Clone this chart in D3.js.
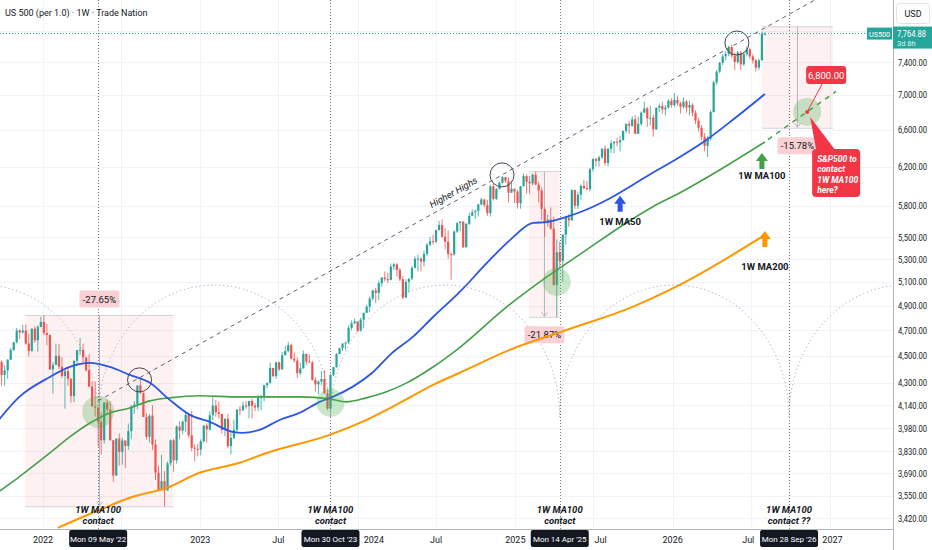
<!DOCTYPE html>
<html>
<head>
<meta charset="utf-8">
<script src="https://cdn.jsdelivr.net/npm/d3@7"></script>
<style>
  body { margin: 0; background: #fff; }
  svg { display: block; font-family: Roboto, "Liberation Sans", sans-serif; }
  .grid line { stroke: #f0f3fa; stroke-width: 1; }
  .tick-y, .tick-x { font-size: 9px; fill: #131722; }
  .note { font-size: 9.5px; font-weight: bold; fill: #131722; }
  .contact { font-size: 9.5px; font-weight: bold; font-style: italic; fill: #131722; }
</style>
</head>
<body>
<svg id="chart" width="932" height="550"></svg>
<script>
// ---- weekly candles (Mon 20 Sep '21 .. Mon 03 Aug '26), open = previous close
var firstWeek = "2021-09-20";
var firstOpen = 4430;
var closes = [
  4455,4357,4391,4471,4545,4605,4697,4682,4698,4595,4538,4712,4620,4725,4766,
  4677,4662,4398,4432,4500,4418,4349,4385,4329,4204,4463,4543,4546,4488,4392,4272,4132,4123,4024,3901,
  4158,4109,3901,3675,3912,3825,3899,3863,3962,4130,4145,4280,4228,4058,3924,4067,3873,3693,3586,3640,
  3583,3752,3901,3771,3993,3965,4026,4072,3934,3852,3845,3840,
  3895,3999,3973,4070,4136,4090,4079,3970,4045,3862,3917,3971,4109,4105,4137,4133,4169,4136,4124,4192,
  4205,4282,4299,4409,4348,4450,4399,4505,4536,4582,4478,4464,4370,4406,4515,4457,4450,4320,4288,4308,
  4327,4224,4117,4358,4415,4514,4559,4595,4604,4719,4755,4770,
  4697,4784,4840,4891,4959,5027,5006,5089,5137,5124,5117,5234,5254,5204,5123,4967,5100,5128,5223,5303,
  5305,5278,5347,5431,5465,5460,5567,5615,5505,5459,5346,5344,5554,5634,5648,5408,5626,5703,5738,5751,
  5815,5864,5808,5729,5995,5870,5969,6032,6090,6051,5931,5971,5942,
  5827,5997,6101,6041,6026,6115,6013,5955,5770,5639,5668,5581,5074,5363,5283,5525,5686,5660,5958,5802,
  5912,6000,5977,5967,6173,6279,6260,6297,6389,6238,6389,6449,6467,6460,6482,6584,6664,6643,6716,6553,
  6664,6792,6840,6728,6734,6603,6849,6870,6830,6850,6930,6880,
  6940,6900,6860,6920,6850,6880,6790,6700,6620,6520,6420,6500,6800,7150,7280,7390,7470,7500,7590,7480,
  7400,7520,7370,7500,7560,7470,7420,7330,7420,7760,7764.88
];
var highs = [
  4465,4466,4429,4475,4560,4608,4718,4708,4743,4743,4672,4713,4731,4740,4808,
  4819,4749,4665,4453,4595,4590,4490,4395,4416,4327,4465,4546,4637,4593,4471,4513,4308,4307,4082,4090,
  4158,4178,4168,3838,3914,3946,3918,3879,4013,4140,4167,4281,4325,4203,4084,4076,4140,3907,3737,3807,
  3703,3763,3906,3911,4001,4028,4034,4100,4076,4101,3877,3878,
  3907,4003,4015,4095,4195,4176,4166,4075,4049,4079,3964,4039,4110,4133,4164,4170,4170,4186,4155,4213,
  4213,4282,4300,4448,4409,4458,4456,4528,4578,4607,4594,4527,4490,4448,4541,4515,4511,4463,4339,4317,
  4385,4393,4256,4366,4418,4521,4560,4596,4609,4738,4778,4793,
  4754,4799,4842,4907,4975,5030,5048,5111,5141,5190,5180,5262,5265,5264,5222,5151,5123,5129,5239,5325,
  5342,5315,5376,5447,5506,5524,5570,5655,5670,5585,5566,5364,5563,5643,5651,5651,5636,5733,5767,5765,
  5822,5879,5866,5862,6012,6018,5978,6044,6099,6092,6085,6049,5966,
  5961,6000,6128,6120,6101,6128,6147,6043,5986,5785,5715,5786,5695,5481,5459,5528,5700,5720,5964,5960,
  5944,6016,6059,6050,6187,6284,6290,6316,6395,6427,6395,6481,6467,6509,6532,6592,6671,6699,6750,6764,
  6744,6808,6920,6860,6870,6770,6853,6900,6920,6880,6950,6960,
  7020,6990,6920,6970,6940,6930,6900,6820,6730,6650,6560,6530,6820,7170,7300,7400,7500,7540,7610,7620,
  7520,7540,7540,7520,7600,7580,7500,7440,7440,7790,7780
];
var lows = [
  4306,4278,4278,4329,4470,4537,4595,4630,4672,4585,4495,4532,4600,4531,4733,
  4662,4582,4395,4222,4431,4401,4335,4115,4279,4157,4161,4424,4507,4450,4381,4267,4128,4062,3859,3810,
  3876,4074,3900,3637,3705,3738,3742,3721,3838,3911,4079,4112,4218,4057,3906,3886,3837,3647,3584,3584,
  3488,3633,3738,3698,3751,3906,3940,3956,3918,3828,3764,3796,
  3802,3885,3885,3964,4036,4060,4047,3944,3928,3847,3809,3908,3951,4069,4096,4114,4049,4048,4099,4098,
  4103,4166,4261,4293,4341,4328,4385,4394,4504,4526,4474,4449,4335,4356,4403,4431,4449,4316,4238,4216,
  4283,4223,4104,4103,4347,4411,4511,4537,4546,4593,4700,4751,
  4682,4688,4714,4845,4845,4942,4920,4946,5058,5105,5092,5114,5203,5146,5107,4953,4963,5011,5114,5218,
  5191,5191,5234,5331,5420,5433,5444,5565,5497,5391,5302,5119,5330,5540,5560,5402,5406,5615,5703,5674,
  5696,5804,5787,5703,5697,5853,5858,5964,6024,6031,5832,5933,5829,
  5774,5773,5995,5923,5923,6003,6009,5837,5666,5505,5598,5572,5069,4805,5220,5101,5433,5598,5786,5768,
  5767,5861,5964,5952,5943,6146,6201,6201,6282,6212,6201,6343,6343,6416,6360,6481,6563,6551,6630,6550,
  6570,6641,6800,6631,6646,6521,6600,6800,6780,6760,6840,6850,
  6860,6870,6780,6840,6790,6760,6750,6660,6580,6480,6360,6300,6480,6790,7120,7260,7360,7420,7470,7450,
  7300,7380,7300,7350,7470,7440,7380,7280,7300,7420,7740
];
var lastPrice = 7764.88;

// ---- moving averages
var ma50Dates = ["2021-09-20","2021-11-07","2022-01-17","2022-03-04","2022-04-20","2022-06-05","2022-07-21",
  "2022-09-06","2022-10-22","2022-12-08","2023-01-23","2023-03-17","2023-04-09","2023-05-18","2023-07-04",
  "2023-08-19","2023-10-05","2023-11-04","2023-12-20","2024-02-04","2024-03-21","2024-05-08","2024-06-24",
  "2024-08-25","2024-10-27","2024-12-20","2025-02-11","2025-03-15","2025-04-30","2025-06-29","2025-08-14",
  "2025-09-30","2025-11-15","2026-01-10","2026-03-20","2026-05-20","2026-08-03"];
var ma50Vals = [4037,4198,4342,4417,4447,4417,4358,4299,4177,4072,4024,3957,3950,3970,4037,4086,4163,4198,
  4270,4373,4523,4647,4806,5014,5267,5476,5635,5644,5693,5790,5889,6010,6133,6280,6485,6708,7010];

var ma100Dates = ["2021-09-20","2021-11-07","2022-01-17","2022-03-04","2022-04-20","2022-06-05","2022-07-21",
  "2022-09-06","2022-10-22","2022-12-30","2023-04-02","2023-08-19","2023-10-28","2023-12-06","2024-01-21",
  "2024-03-08","2024-04-24","2024-06-24","2024-08-18","2024-12-12","2025-03-15","2025-06-15","2025-09-15",
  "2025-11-15","2026-01-17","2026-04-20","2026-08-03"];
var ma100Vals = [3575,3667,3818,3923,4017,4086,4120,4170,4191,4206,4198,4198,4184,4163,4191,4234,4299,4416,
  4546,4889,5143,5384,5635,5790,5929,6164,6463];

var ma200Dates = ["2022-02-04","2022-05-13","2022-07-28","2022-10-15","2022-12-30","2023-04-02","2023-06-04",
  "2023-10-28","2024-01-06","2024-04-08","2024-06-24","2024-08-25","2024-12-19","2025-04-30","2025-09-30",
  "2026-01-17","2026-08-03"];
var ma200Vals = [3363,3468,3545,3599,3692,3755,3818,3937,4017,4156,4285,4373,4546,4702,4889,5074,5522];

var projDates = ["2026-08-10","2027-01-15"];
var projVals = [6490,7040];

// ---- drawings
var markerDates = ["2022-05-09","2023-10-30","2025-04-14","2026-09-28"];
var markerLabels = ["Mon 09 May '22","Mon 30 Oct '23","Mon 14 Apr '25","Mon 28 Sep '26"];
var contactLabels = ["contact","contact","contact","contact ??"];

var rangeStart = ["2021-11-21","2025-02-02","2026-07-27"];
var rangeEnd = ["2022-10-31","2025-04-14","2027-01-08"];
var rangeTop = [4818,6147,7855];
var rangeBottom = [3486,4803,6615];
var rangeLabels = ["-27.65%","-21.87%","-15.78%"];

var contactDates = ["2022-05-09","2023-10-30","2025-04-07","2026-11-09"];
var contactPrices = [4093,4156,5100,6800];
var highDates = ["2022-08-13","2024-12-01","2026-05-30"];
var highPrices = [4321,6113,7642];
var hhDates = ["2022-05-09","2025-12-01"];
var hhPrices = [4170,7094];

var yTicks = [7800,7400,7000,6600,6200,5800,5500,5300,5100,4900,4700,4500,4300,4140,3980,3830,3690,3550,3420];
var xTickDates = ["2022-01-01","2022-07-01","2023-01-01","2023-07-01","2024-01-01","2024-07-01","2025-01-01",
  "2025-07-01","2026-01-01","2026-07-01","2027-01-01"];
var xTickLabels = ["2022","Jul","2023","Jul","2024","Jul","2025","Jul","2026","Jul","2027"];

// ---- setup
var parse = d3.timeParse("%Y-%m-%d");
var W = 932, H = 550, plotR = 893, plotB = 529;
var svg = d3.select("#chart");
var x = d3.scaleTime().domain([parse("2022-01-01"), parse("2027-01-01")]).range([43, 830]);
var y = d3.scaleLog().domain([3420, 7400]).range([518, 62]);
var UP = "#26a69a", DOWN = "#ef5350";
var fmt = d3.format(",.2f");

var defs = svg.append("defs");
defs.append("clipPath").attr("id", "plotclip")
  .append("rect").attr("x", 0).attr("y", 0).attr("width", plotR).attr("height", plotB);

var plot = svg.append("g").attr("clip-path", "url(#plotclip)");

// grid
var grid = plot.append("g").attr("class", "grid");
grid.selectAll(".gy").data(yTicks).enter().append("line")
  .attr("x1", 0).attr("x2", plotR)
  .attr("y1", function(d){ return Math.round(y(d)) + 0.5; })
  .attr("y2", function(d){ return Math.round(y(d)) + 0.5; });
grid.selectAll(".gx").data(xTickDates).enter().append("line")
  .attr("y1", 0).attr("y2", plotB)
  .attr("x1", function(d){ return Math.round(x(parse(d))) + 0.5; })
  .attr("x2", function(d){ return Math.round(x(parse(d))) + 0.5; });

// price range boxes
var ranges = rangeStart.map(function(d, i){
  return {x1: x(parse(d)), x2: x(parse(rangeEnd[i])), yt: y(rangeTop[i]), yb: y(rangeBottom[i]), label: rangeLabels[i], i: i};
});
var rg = plot.append("g");
ranges.forEach(function(r){
  rg.append("rect").attr("x", r.x1).attr("y", r.yt).attr("width", r.x2 - r.x1).attr("height", r.yb - r.yt)
    .attr("fill", "rgba(242,54,69,0.07)");
  [r.yt, r.yb].forEach(function(yy){
    rg.append("line").attr("x1", r.x1).attr("x2", r.x2).attr("y1", yy).attr("y2", yy)
      .attr("stroke", "#d1d4dc").attr("stroke-width", 1);
  });
  var xm = (r.x1 + r.x2) / 2;
  rg.append("line").attr("x1", xm).attr("x2", xm).attr("y1", r.yt).attr("y2", r.yb - 1)
    .attr("stroke", "#b2b5be").attr("stroke-width", 1);
  rg.append("path").attr("d", "M" + (xm - 3) + "," + (r.yb - 5) + "L" + xm + "," + (r.yb - 1) + "L" + (xm + 3) + "," + (r.yb - 5))
    .attr("fill", "none").attr("stroke", "#b2b5be");
});

// time cycle arcs
var mx = markerDates.map(function(d){ return x(parse(d)); });
var span = (mx[mx.length - 1] - mx[0]) / (mx.length - 1);
var arcEdges = [mx[0] - span].concat(mx).concat([mx[mx.length - 1] + span]);
var arcBase = 417, arcRy = 132;
for (var k = 0; k < arcEdges.length - 1; k++) {
  var a = arcEdges[k], b = arcEdges[k + 1];
  plot.append("path")
    .attr("d", "M" + a + "," + arcBase + " A" + ((b - a) / 2) + "," + arcRy + " 0 0 1 " + b + "," + arcBase)
    .attr("fill", "none").attr("stroke", "#9598a1").attr("stroke-width", 1).attr("stroke-dasharray", "1,3");
}

// vertical marker lines
plot.selectAll(".vm").data(mx).enter().append("line")
  .attr("x1", function(d){ return Math.round(d) + 0.5; }).attr("x2", function(d){ return Math.round(d) + 0.5; })
  .attr("y1", 0).attr("y2", plotB)
  .attr("stroke", "#787b86").attr("stroke-width", 1).attr("stroke-dasharray", "1,2");

// higher highs trend line
var hx0 = x(parse(hhDates[0])), hy0 = y(hhPrices[0]);
var hx1 = x(parse(hhDates[1])), hy1 = y(hhPrices[1]);
var slope = (hy1 - hy0) / (hx1 - hx0);
plot.append("line").attr("x1", hx0).attr("y1", hy0).attr("x2", plotR).attr("y2", hy0 + slope * (plotR - hx0))
  .attr("stroke", "#5d606b").attr("stroke-width", 1).attr("stroke-dasharray", "4,4");
var tx = 455, ty = hy0 + slope * (tx - hx0) - 6;
plot.append("text").attr("x", tx).attr("y", ty).attr("text-anchor", "middle")
  .attr("transform", "rotate(" + (Math.atan(slope) * 180 / Math.PI) + "," + tx + "," + ty + ")")
  .style("font-size", "9.5px").style("font-style", "italic").style("fill", "#131722").text("Higher Highs");

// range labels (under the MA lines)
ranges.forEach(function(r){
  var xm = (r.x1 + r.x2) / 2;
  var by = r.i === 0 ? r.yt - 25 : r.yb + 9;
  plot.append("rect").attr("x", xm - 20).attr("y", by).attr("width", 40).attr("height", 17).attr("rx", 2)
    .attr("fill", "#f9d0d3");
  plot.append("text").attr("x", xm).attr("y", by + 12).attr("text-anchor", "middle")
    .style("font-size", "9.5px").style("fill", "#131722").text(r.label);
});

// candles
var start = parse(firstWeek);
var bars = closes.map(function(c, i){
  var o = i === 0 ? firstOpen : closes[i - 1];
  return {date: d3.timeDay.offset(start, 7 * i), o: o, c: c,
          h: Math.max(highs[i], o, c), l: Math.min(lows[i], o, c)};
});
var cg = plot.append("g");
cg.selectAll(".wick").data(bars).enter().append("line")
  .attr("x1", function(d){ return x(d.date); }).attr("x2", function(d){ return x(d.date); })
  .attr("y1", function(d){ return y(d.h); }).attr("y2", function(d){ return y(d.l); })
  .attr("stroke", function(d){ return d.c >= d.o ? UP : DOWN; }).attr("stroke-width", 0.8);
cg.selectAll(".body").data(bars).enter().append("rect")
  .attr("x", function(d){ return x(d.date) - 1.1; }).attr("width", 2.2)
  .attr("y", function(d){ return y(Math.max(d.o, d.c)); })
  .attr("height", function(d){ return Math.max(1, Math.abs(y(d.o) - y(d.c))); })
  .attr("fill", function(d){ return d.c >= d.o ? UP : DOWN; });

// moving averages
var line = d3.line().curve(d3.curveMonotoneX)
  .x(function(d){ return x(parse(d[0])); }).y(function(d){ return y(d[1]); });
function zip(ds, vs){ return ds.map(function(d, i){ return [d, vs[i]]; }); }
plot.append("path").attr("d", line(zip(ma200Dates, ma200Vals))).attr("fill", "none").attr("stroke", "#ff9800").attr("stroke-width", 2);
plot.append("path").attr("d", line(zip(ma100Dates, ma100Vals))).attr("fill", "none").attr("stroke", "#43a047").attr("stroke-width", 1.6);
plot.append("path").attr("d", line(zip(ma50Dates, ma50Vals))).attr("fill", "none").attr("stroke", "#2b55e6").attr("stroke-width", 1.8);
plot.append("path").attr("d", line(zip(projDates, projVals))).attr("fill", "none").attr("stroke", "#43a047")
  .attr("stroke-width", 1.5).attr("stroke-dasharray", "5,5");

// contact circles and highs circles
plot.selectAll(".cc").data(contactDates).enter().append("circle")
  .attr("cx", function(d){ return x(parse(d)); }).attr("cy", function(d, i){ return y(contactPrices[i]); })
  .attr("r", function(d, i){ return i === 0 ? 16 : 14; }).attr("fill", "rgba(76,175,80,0.3)");
plot.selectAll(".hc").data(highDates).enter().append("circle")
  .attr("cx", function(d){ return x(parse(d)); }).attr("cy", function(d, i){ return y(highPrices[i]); })
  .attr("r", 12).attr("fill", "none").attr("stroke", "#434651").attr("stroke-width", 1);

// last price line
var yl = y(lastPrice);
plot.append("line").attr("x1", 0).attr("x2", 867).attr("y1", yl).attr("y2", yl)
  .attr("stroke", UP).attr("stroke-width", 1).attr("stroke-dasharray", "1,2");

// MA arrows + labels
function upArrow(tx, ty, color){
  plot.append("path").attr("fill", color).attr("d",
    "M" + tx + "," + ty + "L" + (tx + 6) + "," + (ty + 8) + "L" + (tx + 2.5) + "," + (ty + 8) +
    "L" + (tx + 2.5) + "," + (ty + 16) + "L" + (tx - 2.5) + "," + (ty + 16) + "L" + (tx - 2.5) + "," + (ty + 8) +
    "L" + (tx - 6) + "," + (ty + 8) + "Z");
}
var arrowDates = ["2025-09-01","2026-07-27","2026-08-03"];
var arrowPrices = [5900,6344,5560];
var arrowColors = ["#2b55e6","#43a047","#ff9800"];
var arrowTexts = ["1W MA50","1W MA100","1W MA200"];
var arrowGap = [29, 26, 39];
arrowDates.forEach(function(d, i){
  var ax = x(parse(d)), ay = y(arrowPrices[i]);
  upArrow(ax, ay, arrowColors[i]);
  plot.append("text").attr("class", "note").attr("x", ax).attr("y", ay + arrowGap[i]).attr("text-anchor", "middle").text(arrowTexts[i]);
});

// red callouts
var px = x(parse(contactDates[3])), py = y(contactPrices[3]);
plot.append("line").attr("x1", px + 15).attr("y1", py - 28).attr("x2", px).attr("y2", py).attr("stroke", "#f23645");
plot.append("circle").attr("cx", px).attr("cy", py).attr("r", 2).attr("fill", "#f23645");
plot.append("rect").attr("x", px - 1).attr("y", py - 46).attr("width", 40).attr("height", 18).attr("rx", 3).attr("fill", "#f23645");
plot.append("text").attr("x", px + 19).attr("y", py - 33).attr("text-anchor", "middle")
  .style("font-size", "9.5px").style("fill", "#fff").text(fmt(contactPrices[3]));
plot.append("path").attr("fill", "#f23645")
  .attr("d", "M" + (px + 9) + "," + (py + 38) + "L" + (px + 3) + "," + (py + 5) + "L" + (px + 28) + "," + (py + 38) + "Z");
plot.append("rect").attr("x", px + 5).attr("y", py + 37).attr("width", 48).attr("height", 48).attr("rx", 4).attr("fill", "#f23645");
["S&P500 to","contact","1W MA100","here?"].forEach(function(t, i){
  plot.append("text").attr("x", px + 10).attr("y", py + 50 + i * 10.5)
    .style("font-size", "8.5px").style("font-weight", "bold").style("font-style", "italic").style("fill", "#fff").text(t);
});

// "1W MA100 contact" notes at the markers
mx.forEach(function(m, i){
  plot.append("text").attr("class", "contact").attr("x", m).attr("y", 513).attr("text-anchor", "middle").text("1W MA100");
  plot.append("text").attr("class", "contact").attr("x", m).attr("y", 524).attr("text-anchor", "middle").text(contactLabels[i]);
});

// ---- axes
svg.append("line").attr("x1", 0).attr("x2", plotR).attr("y1", plotB + 0.5).attr("y2", plotB + 0.5).attr("stroke", "#b2b5be");
svg.append("line").attr("x1", plotR + 0.5).attr("x2", plotR + 0.5).attr("y1", 0).attr("y2", H).attr("stroke", "#b2b5be");

// price labels (the top one sits under the last-price tag)
var yl0 = yl - 7;
defs.append("clipPath").attr("id", "yclip").append("rect").attr("x", 894).attr("y", 0).attr("width", 38).attr("height", yl0);
svg.selectAll(".tick-y").data(yTicks).enter().append("text").attr("class", "tick-y")
  .attr("clip-path", function(d){ return y(d) + 4 > yl0 && y(d) - 8 < yl0 + 22 ? "url(#yclip)" : null; })
  .attr("x", 898).attr("y", function(d){ return y(d) + 3.5; })
  .attr("textLength", 29).attr("lengthAdjust", "spacingAndGlyphs")
  .text(function(d){ return fmt(d); });

// time labels: dropped where a marker box hides nearly all of one, pushed aside where it only touches
var boxHalf = 29;
xTickDates.forEach(function(d, i){
  var cx = x(parse(d)), half = xTickLabels[i].length * 2.6 + 1;
  var cover = mx.filter(function(m){ return cx + half > m - boxHalf - 3 && cx - half < m + boxHalf + 3; })[0];
  if (cover !== undefined) {
    var hidden = Math.min(cx + half, cover + boxHalf) - Math.max(cx - half, cover - boxHalf);
    if (hidden > 1.5 * half) return;
    cx = cx > cover ? cover + boxHalf + half + 3 : cover - boxHalf - half - 3;
  }
  svg.append("text").attr("class", "tick-x").attr("x", cx).attr("y", 543).attr("text-anchor", "middle").text(xTickLabels[i]);
});

mx.forEach(function(m, i){
  svg.append("rect").attr("x", m - boxHalf).attr("y", 530).attr("width", boxHalf * 2).attr("height", 17).attr("rx", 2).attr("fill", "#131722");
  svg.append("text").attr("x", m).attr("y", 541.5).attr("text-anchor", "middle")
    .style("font-size", "8px").style("fill", "#fff").text(markerLabels[i]);
});

// USD box + last price tag
svg.append("rect").attr("x", 896.5).attr("y", 3.5).attr("width", 33).attr("height", 20).attr("rx", 3)
  .attr("fill", "#fff").attr("stroke", "#e0e3eb");
svg.append("text").attr("x", 913).attr("y", 17).attr("text-anchor", "middle").style("font-size", "9px").style("fill", "#131722").text("USD");
svg.append("rect").attr("x", 867).attr("y", yl - 6).attr("width", 25).attr("height", 12).attr("fill", UP);
svg.append("text").attr("x", 879.5).attr("y", yl + 3).attr("text-anchor", "middle")
  .attr("textLength", 21).attr("lengthAdjust", "spacingAndGlyphs")
  .style("font-size", "8px").style("fill", "#fff").text("US500");
svg.append("rect").attr("x", 893).attr("y", yl - 7).attr("width", 39).attr("height", 22).attr("fill", UP);
svg.append("text").attr("x", 897).attr("y", yl + 3)
  .attr("textLength", 29).attr("lengthAdjust", "spacingAndGlyphs")
  .style("font-size", "9px").style("fill", "#fff").text(fmt(lastPrice));
svg.append("text").attr("x", 897).attr("y", yl + 12.5).style("font-size", "7.5px").style("fill", "#e0f2f1").text("3d 8h");

// title
svg.append("text").attr("x", 5).attr("y", 16).style("font-size", "9px").style("fill", "#131722")
  .text("US 500 (per 1.0) · 1W · Trade Nation");
</script>
</body>
</html>
